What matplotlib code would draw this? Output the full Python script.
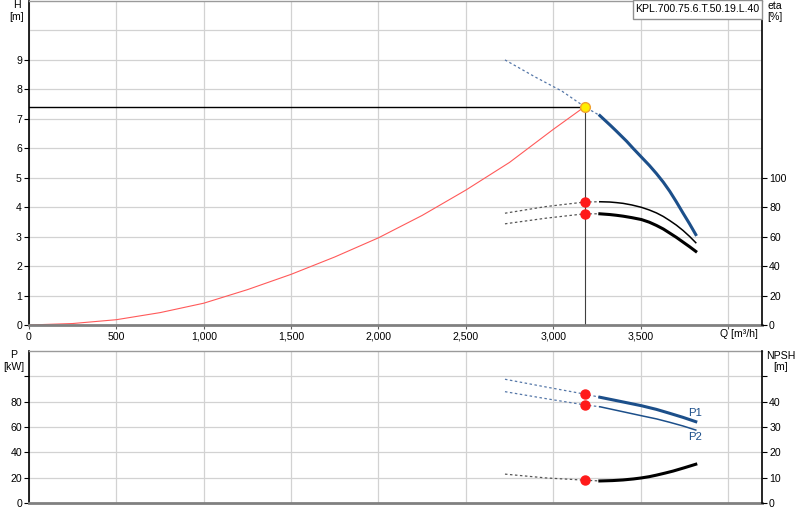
import matplotlib
matplotlib.use("Agg")
import matplotlib.pyplot as plt

plt.rcParams['font.family'] = ['Liberation Sans', 'DejaVu Sans']
plt.rcParams['font.size'] = 7.6

# duty point
q_duty = 3180
h_duty = 7.41
eta_duty = [83.5, 75.5]
p_duty = [85.9, 77.4]
npsh_duty = 9.0

# pump head curve H(Q)
q_h_ext = [2724, 2900, 3050, 3180, 3267]
h_ext = [9.0, 8.41, 7.94, 7.41, 7.11]
q_h = [3267, 3327, 3362, 3420, 3457, 3505, 3550, 3591, 3630, 3667, 3705, 3743, 3780, 3816]
h_vals = [7.11, 6.78, 6.58, 6.24, 6.00, 5.70, 5.42, 5.14, 4.85, 4.54, 4.18, 3.80, 3.44, 3.07]

# system curve
q_sys = [0, 250, 500, 750, 1000, 1250, 1500, 1750, 2000, 2250, 2500, 2750, 3000, 3180]
h_sys = [0, 0.05, 0.18, 0.42, 0.74, 1.2, 1.72, 2.31, 2.96, 3.72, 4.58, 5.52, 6.64, 7.41]

# efficiency curves
q_eta_ext = [2724, 2957, 3180, 3267]
eta1_ext = [75.9, 80.4, 83.5, 83.7]
eta2_ext = [68.7, 72.5, 75.5, 75.5]
q_eta = [3267, 3324, 3362, 3400, 3450, 3505, 3550, 3591, 3630, 3667, 3705, 3743, 3780, 3816]
eta1 = [83.7, 83.5, 83.1, 82.6, 81.5, 79.9, 78.1, 76.1, 73.7, 70.9, 67.8, 64.2, 60.2, 55.9]
eta2 = [75.5, 75.0, 74.5, 73.9, 72.9, 71.6, 69.8, 67.6, 65.2, 62.4, 59.5, 56.3, 53.2, 50.0]

# power curves
q_p_ext = [2724, 2958, 3183, 3267]
p1_ext = [97.7, 91.6, 85.9, 83.5]
p2_ext = [87.9, 82.4, 77.4, 76.0]
q_p = [3267, 3381, 3505, 3591, 3667, 3743, 3816]
p1 = [83.5, 80.3, 76.8, 73.9, 70.8, 67.6, 64.2]
p2 = [76.0, 72.6, 68.9, 66.4, 63.7, 60.8, 57.6]

# NPSH curve
q_npsh_ext = [2724, 2958, 3183, 3267]
npsh_ext = [11.4, 9.9, 9.0, 8.7]
q_npsh = [3267, 3340, 3400, 3460, 3505, 3550, 3591, 3640, 3686, 3750, 3816]
npsh = [8.7, 8.85, 9.1, 9.5, 9.9, 10.4, 11.0, 11.8, 12.6, 13.9, 15.3]

q_ticks = [0, 500, 1000, 1500, 2000, 2500, 3000, 3500, 4000]
q_labels = ['0', '500', '1,000', '1,500', '2,000', '2,500', '3,000', '3,500', '']

blue = '#1c4f8a'
dash_blue = '#5577a8'
dash_grey = '#555555'
grid_c = '#d2d2d2'


def fx(px):
    return px / 800


def fy(py):
    return 1 - py / 520


fig = plt.figure(figsize=(8, 5.2), dpi=100)

ax1 = fig.add_axes([fx(29), fy(325), 733 / 800, 324 / 520])
ax1r = ax1.twinx()
ax2 = fig.add_axes([fx(29), fy(503), 733 / 800, 152 / 520])
ax2r = ax2.twinx()

for ax in (ax1, ax2):
    ax.set_xlim(0, 4195)
    ax.set_xticks(q_ticks)
    ax.grid(True, color=grid_c, lw=0.9)
    ax.set_axisbelow(True)
    ax.spines['right'].set_visible(False)
    ax.spines['left'].set_color('black')
    ax.spines['left'].set_linewidth(1.2)
    ax.spines['top'].set_color('#9a9a9a')
    ax.spines['top'].set_linewidth(1.0)
    ax.spines['bottom'].set_color('#808080')
    ax.spines['bottom'].set_linewidth(2.0)
    ax.tick_params(axis='y', direction='out', length=3.6, width=0.8, pad=1.5)

for ax in (ax1r, ax2r):
    for s in ('left', 'top', 'bottom'):
        ax.spines[s].set_visible(False)
    ax.spines['right'].set_color('black')
    ax.spines['right'].set_linewidth(1.2)
    ax.tick_params(axis='y', direction='out', length=3.6, width=0.8, pad=1.5)

# top panel
ax1.set_ylim(0, 11)
ax1.set_yticks(range(0, 10))
ax1.axhline(10, color=grid_c, lw=0.9, zorder=0)
ax1.set_xticklabels(q_labels)
ax1.tick_params(axis='x', direction='out', length=3, width=0.8, color='#606060', pad=2)
ax1r.set_ylim(0, 220)
ax1r.set_yticks(range(0, 101, 20))

ax1.plot(q_sys, h_sys, color='#ff5a5a', lw=0.8)
ax1.plot([0, q_duty], [h_duty, h_duty], color='black', lw=1.0)
ax1.plot([q_duty, q_duty], [0, h_duty], color='#404040', lw=0.8)
ax1.plot(q_h_ext, h_ext, color=dash_blue, lw=0.9, ls=(0, (2, 2)))
ax1.plot(q_h, h_vals, color=blue, lw=2.2)
ax1.plot([q_duty], [h_duty], 'o', ms=7, mfc='#ffee00', mec='#f0a030', mew=1.0, zorder=5)

ax1r.plot(q_eta_ext, eta1_ext, color=dash_grey, lw=0.9, ls=(0, (2, 2)))
ax1r.plot(q_eta_ext, eta2_ext, color=dash_grey, lw=0.9, ls=(0, (2, 2)))
ax1r.plot(q_eta, eta1, color='black', lw=1.1)
ax1r.plot(q_eta, eta2, color='black', lw=2.2)
ax1r.plot([q_duty, q_duty], eta_duty, 'o', ms=6.5, color='#ff1a1a', ls='none')

# bottom panel
ax2.set_ylim(0, 120)
ax2.set_yticks(range(0, 101, 20))
ax2.set_yticklabels(['0', '20', '40', '60', '80', ''])
ax2.tick_params(axis='x', length=0, labelbottom=False)
ax2r.set_ylim(0, 60)
ax2r.set_yticks(range(0, 51, 10))
ax2r.set_yticklabels(['0', '10', '20', '30', '40', ''])

ax2.plot(q_p_ext, p1_ext, color=dash_blue, lw=0.9, ls=(0, (2, 2)))
ax2.plot(q_p_ext, p2_ext, color=dash_blue, lw=0.9, ls=(0, (2, 2)))
ax2.plot(q_p, p1, color=blue, lw=2.2)
ax2.plot(q_p, p2, color=blue, lw=1.1)
ax2.plot([q_duty, q_duty], p_duty, 'o', ms=6.5, color='#ff1a1a', ls='none', zorder=5)
ax2.text(3810, 71.3, 'P1', color=blue, ha='center', va='center', fontsize=8.2)
ax2.text(3810, 52.3, 'P2', color=blue, ha='center', va='center', fontsize=8.2)

ax2r.plot(q_npsh_ext, npsh_ext, color=dash_grey, lw=0.9, ls=(0, (2, 2)))
ax2r.plot(q_npsh, npsh, color='black', lw=2.2)
ax2r.plot([q_duty], [npsh_duty], 'o', ms=6.5, color='#ff1a1a')

# axis titles
fig.text(fx(17), fy(5), 'H', ha='center', va='center')
fig.text(fx(17), fy(17), '[m]', ha='center', va='center')
fig.text(fx(767), fy(6), 'eta', ha='left', va='center')
fig.text(fx(767), fy(17), '[%]', ha='left', va='center')
fig.text(fx(739), fy(334), 'Q [m³/h]', ha='center', va='center')
fig.text(fx(14), fy(355), 'P', ha='center', va='center')
fig.text(fx(14), fy(367), '[kW]', ha='center', va='center')
fig.text(fx(781), fy(356), 'NPSH', ha='center', va='center')
fig.text(fx(781), fy(367), '[m]', ha='center', va='center')

# pump name box
fig.add_artist(plt.Rectangle((fx(633), fy(19)), 129 / 800, 19 / 520,
                             transform=fig.transFigure, fc='white', ec='#909090', lw=1, zorder=5))
fig.text(fx(697), fy(9.5), 'KPL.700.75.6.T.50.19.L.40', ha='center', va='center', zorder=6)

fig.savefig('out.png', dpi=100)
